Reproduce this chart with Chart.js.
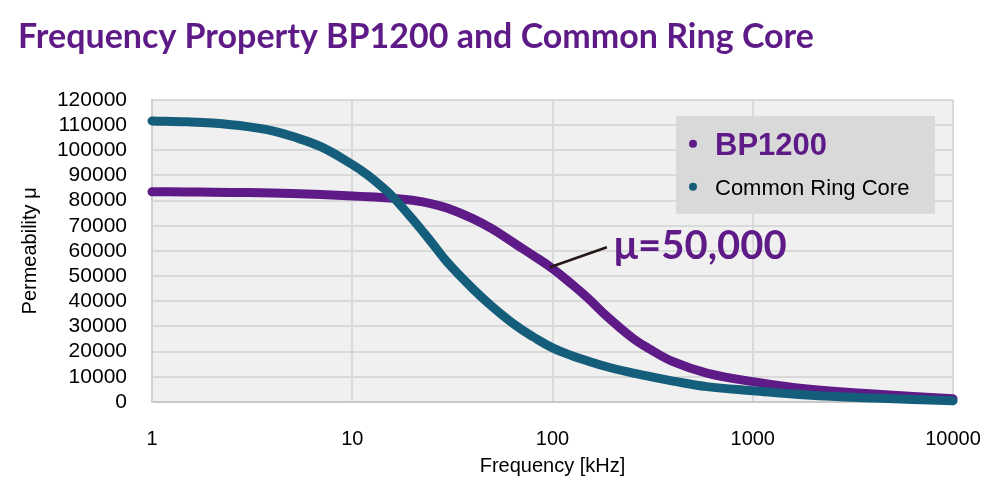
<!DOCTYPE html>
<html>
<head>
<meta charset="utf-8">
<script src="https://cdn.jsdelivr.net/npm/chart.js@4.4.1/dist/chart.umd.min.js"></script>
<style>
  html, body { margin: 0; padding: 0; background: #fff; }
  #wrap { width: 1000px; height: 500px; }
</style>
</head>
<body>
<div id="wrap"><canvas id="chart"></canvas></div>
<script>
// ---------- values ----------
const frequencies = [1, 1.5, 2, 3, 4, 5, 7, 10, 12, 14, 16, 20, 25, 30, 40, 50, 66, 80, 100, 127, 150, 187, 250, 300, 400, 590, 1000, 1870, 4000, 10000];
const bp1200 = [83500, 83400, 83300, 83150, 83000, 82800, 82400, 81800, 81500, 81200, 80900, 80100, 78700, 76900, 72800, 68700, 62500, 58200, 53000, 46300, 41300, 34000, 25500, 21400, 16000, 11500, 8100, 5200, 3200, 1300];
const ringCore = [111600, 111250, 110750, 109350, 107700, 105500, 101300, 94300, 90000, 85600, 81300, 72600, 63200, 55300, 45000, 37900, 30200, 25900, 21500, 18200, 16300, 14000, 11600, 10300, 8300, 6100, 4500, 2800, 1600, 500];
const xTickValues = [1, 10, 100, 1000, 10000];
const yTickValues = [0, 10000, 20000, 30000, 40000, 50000, 60000, 70000, 80000, 90000, 100000, 110000, 120000];
const seriesNames = ['BP1200', 'Common Ring Core'];
const noteText = 'μ=50,000';
const noteAt = { x: 97, y: 53500 };

// ---------- colours ----------
const purple = '#5e1a87';
const teal = '#155e7b';

// /------------ plot background, legend box and note ------------/
const extras = {
    id: 'extras',
    beforeDraw(chart) {
        const { ctx, chartArea: a } = chart;
        ctx.save();
        ctx.fillStyle = '#f0f0f0';
        ctx.fillRect(a.left, a.top, a.right - a.left, a.bottom - a.top);
        ctx.restore();
    },
    afterDraw(chart) {
        const { ctx, chartArea: a, scales } = chart;
        ctx.save();

        // legend
        const bx = a.right - 277, by = a.top + 16;
        ctx.fillStyle = '#d9d9d9';
        ctx.fillRect(bx, by, 259, 98);
        ctx.textBaseline = 'alphabetic';
        ctx.fillStyle = purple;
        ctx.beginPath();
        ctx.arc(bx + 17, by + 28, 4, 0, Math.PI * 2);
        ctx.fill();
        ctx.font = 'bold 31px Arial, "Liberation Sans"';
        ctx.fillText(seriesNames[0], bx + 39, by + 39);
        ctx.fillStyle = teal;
        ctx.beginPath();
        ctx.arc(bx + 17, by + 71, 4, 0, Math.PI * 2);
        ctx.fill();
        ctx.fillStyle = '#000';
        ctx.font = '22px Arial, "Liberation Sans"';
        ctx.fillText(seriesNames[1], bx + 39, by + 79);

        // note with leader line
        const px = scales.x.getPixelForValue(noteAt.x);
        const py = scales.y.getPixelForValue(noteAt.y);
        ctx.strokeStyle = '#231815';
        ctx.lineWidth = 2.5;
        ctx.beginPath();
        ctx.moveTo(px, py);
        ctx.lineTo(px + 57, py - 20);
        ctx.stroke();
        ctx.fillStyle = purple;
        ctx.font = 'bold 40px Lato';
        ctx.fillText(noteText, px + 64, py - 8);

        ctx.restore();
    }
};

function makeChart() {
    new Chart(document.getElementById('chart'), {
        type: 'line',
        data: {
            labels: frequencies,
            datasets: [{
                label: seriesNames[0],
                data: frequencies.map((f, i) => ({ x: f, y: bp1200[i] })),
                borderColor: purple,
                order: 2
            }, {
                label: seriesNames[1],
                data: frequencies.map((f, i) => ({ x: f, y: ringCore[i] })),
                borderColor: teal,
                order: 1
            }]
        },
        options: {
            responsive: true,
            maintainAspectRatio: false,
            animation: false,
            layout: {
                padding: { left: 18, right: 47, top: 0, bottom: 10 }
            },
            elements: {
                line: {
                    borderWidth: 9,
                    borderCapStyle: 'round',
                    borderJoinStyle: 'round',
                    tension: 0.4
                },
                point: { radius: 0, hoverRadius: 0 }
            },
            datasets: { line: { clip: false } },
            scales: {
                x: {
                    type: 'logarithmic',
                    min: 1,
                    max: 10000,
                    afterBuildTicks: s => { s.ticks = xTickValues.map(v => ({ value: v })); },
                    afterFit: s => { s.height = 88; s.paddingRight = 0; s.paddingLeft = 0; },
                    ticks: {
                        padding: 25,
                        color: '#000',
                        autoSkip: false,
                        font: { family: 'Arial, "Liberation Sans"', size: 20 },
                        callback: v => String(v),
                        maxRotation: 0
                    },
                    grid: { color: '#d9d9d9', lineWidth: 2, drawTicks: false },
                    border: { color: '#c8c8c8', width: 2 },
                    title: {
                        display: true,
                        text: 'Frequency [kHz]',
                        color: '#000',
                        font: { family: 'Arial, "Liberation Sans"', size: 20 },
                        padding: { top: 0, bottom: 12 }
                    }
                },
                y: {
                    min: 0,
                    max: 120000,
                    afterBuildTicks: s => { s.ticks = yTickValues.map(v => ({ value: v })); },
                    afterFit: s => { s.width = 134; },
                    ticks: {
                        padding: 25,
                        color: '#000',
                        autoSkip: false,
                        font: { family: 'Arial, "Liberation Sans"', size: 21 },
                        callback: v => String(v)
                    },
                    grid: { color: '#d9d9d9', lineWidth: 2, drawTicks: false },
                    border: { color: '#d0d0d0', width: 2 },
                    title: {
                        display: true,
                        text: 'Permeability μ',
                        color: '#000',
                        font: { family: 'Arial, "Liberation Sans"', size: 20 },
                        padding: { top: 0, bottom: 0 }
                    }
                }
            },
            plugins: {
                legend: { display: false },
                tooltip: { enabled: false },
                title: {
                    display: true,
                    text: 'Frequency Property BP1200 and Common Ring Core',
                    align: 'start',
                    color: purple,
                    font: { family: 'Lato', size: 34, weight: 'bold', lineHeight: 1.2 },
                    padding: { top: 17, bottom: 42 }
                }
            }
        },
        plugins: [extras]
    });
}

Promise.all([
    document.fonts.load('bold 34px Lato'),
    document.fonts.load('bold 40px Lato'),
    document.fonts.load('20px "Liberation Sans"')
]).then(makeChart, makeChart);
</script>
</body>
</html>
